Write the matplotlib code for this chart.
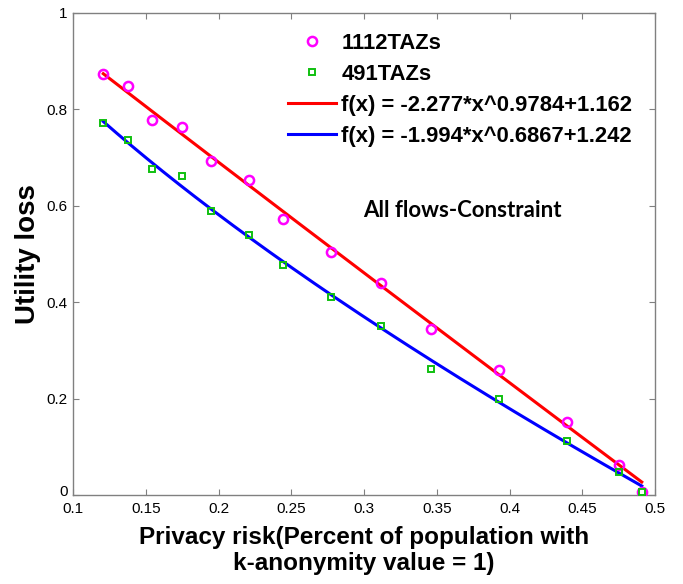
import numpy as np
import matplotlib
matplotlib.use("Agg")
import matplotlib.pyplot as plt
from matplotlib.transforms import ScaledTranslation

# privacy risk values (same for both series)
risk = [0.1208, 0.1375, 0.1541, 0.1749, 0.1947, 0.2212, 0.2440, 0.2771,
        0.3114, 0.3461, 0.3927, 0.4395, 0.4753, 0.4909]
loss_1112 = [0.873, 0.849, 0.779, 0.764, 0.693, 0.653, 0.573, 0.505,
             0.440, 0.345, 0.259, 0.152, 0.062, 0.007]
loss_491 = [0.772, 0.736, 0.676, 0.661, 0.590, 0.540, 0.478, 0.410,
            0.351, 0.262, 0.199, 0.113, 0.048, 0.006]

# power fits f(x) = a*x^b + c
fit_1112 = (-2.277, 0.9784, 1.162)
fit_491 = (-1.994, 0.6867, 1.242)

xticks = [0.1, 0.15, 0.2, 0.25, 0.3, 0.35, 0.4, 0.45, 0.5]
xticklabels = ["0.1", "0.15", "0.2", "0.25", "0.3", "0.35", "0.4", "0.45", "0.5"]
yticks = [0, 0.2, 0.4, 0.6, 0.8, 1]
yticklabels = ["0", "0.2", "0.4", "0.6", "0.8", "1"]

plt.rcParams["font.family"] = ["Liberation Sans", "DejaVu Sans"]

fig = plt.figure(figsize=(6.83, 5.84), dpi=100)
ax = fig.add_axes([73 / 683, 89 / 584, 582 / 683, 482 / 584])

xf = np.linspace(risk[0], risk[-1], 200)
a, b, c = fit_1112
ax.plot(risk, loss_1112, "o", ms=6.6, mfc="none", mec="#ff00ff", mew=1.8,
        label="1112TAZs", zorder=3)
ax.plot(risk, loss_491, "s", ms=4.8, mfc="none", mec="#10c010", mew=1.4,
        label="491TAZs", zorder=3)
ax.plot(xf, a * xf**b + c, color="#ff0000", lw=2.2,
        label="f(x) = -2.277*x^0.9784+1.162", zorder=2)
a, b, c = fit_491
ax.plot(xf, a * xf**b + c, color="#0000ff", lw=2.2,
        label="f(x) = -1.994*x^0.6867+1.242", zorder=2)

ax.set_xlim(0.1, 0.5)
ax.set_ylim(0, 1)
ax.set_xticks(xticks)
ax.set_xticklabels(xticklabels)
ax.set_yticks(yticks)
ax.set_yticklabels(yticklabels)
ax.tick_params(direction="in", length=4, width=0.8, color="#808080",
               labelsize=11, top=True, right=True, pad=4)
ax.tick_params(axis="x", pad=5)
for s in ax.spines.values():
    s.set_color("#808080")
    s.set_linewidth(1.0)

# nudge the "0" label up a little, like the original
zero = ax.get_yticklabels()[0]
zero.set_transform(zero.get_transform() + ScaledTranslation(0, 4 / 100, fig.dpi_scale_trans))

ax.set_xlabel("Privacy risk(Percent of population with\nk-anonymity value = 1)",
              fontsize=17.5, fontweight="bold", linespacing=1.12, labelpad=7.5)
ax.set_ylabel("Utility loss", fontsize=20, fontweight="bold", labelpad=4)

ax.text(0.3678, 0.591, "All flows-Constraint", fontsize=16, fontweight="bold",
        family=["Lato", "DejaVu Sans"], ha="center", va="center")

leg = ax.legend(loc="upper left", bbox_to_anchor=(288 / 683, 1 - 33 / 584),
                bbox_transform=fig.transFigure, frameon=False, borderpad=0,
                borderaxespad=0, handlelength=2.2, handletextpad=0.23,
                labelspacing=0.45, prop={"size": 15.8, "weight": "bold"})

fig.savefig("out.png", dpi=100)
